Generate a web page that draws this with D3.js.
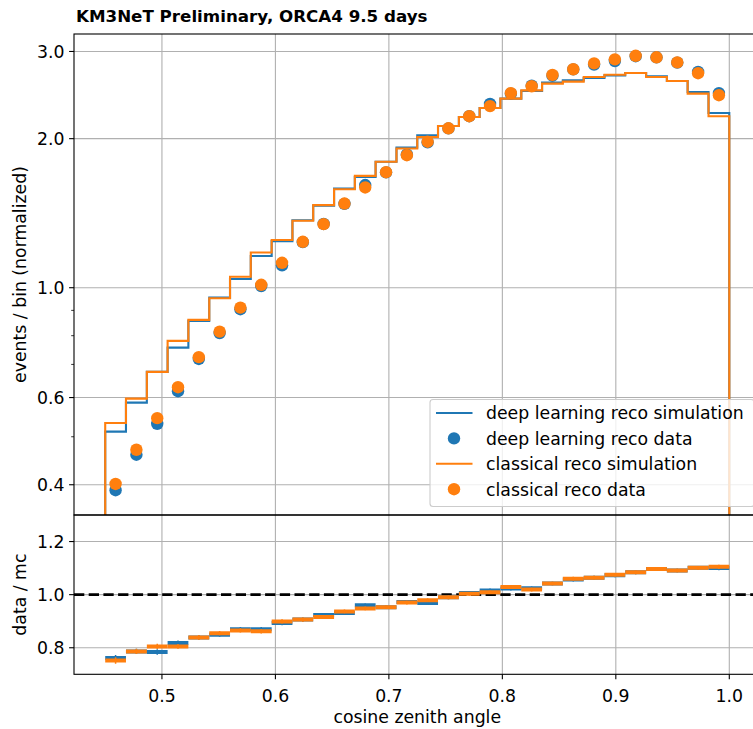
<!DOCTYPE html>
<html>
<head>
<meta charset="utf-8">
<script src="https://cdnjs.cloudflare.com/ajax/libs/d3/7.8.5/d3.min.js"></script>
<style>
  html, body { margin: 0; padding: 0; background: #fff; }
  svg { display: block; font-family: 'DejaVu Sans', sans-serif; }
</style>
</head>
<body>
<div class="graph"></div>
<script>
// cos(zenith) bin edges, 30 bins
var binEdges = [0.4500, 0.4683, 0.4867, 0.5050, 0.5233, 0.5417, 0.5600, 0.5783, 0.5967, 0.6150,
                0.6333, 0.6517, 0.6700, 0.6883, 0.7067, 0.7250, 0.7433, 0.7617, 0.7800, 0.7983,
                0.8167, 0.8350, 0.8533, 0.8717, 0.8900, 0.9083, 0.9267, 0.9450, 0.9633, 0.9817, 1.0000];

// events / bin (normalized)
var dlSim = [0.512, 0.586, 0.676, 0.757, 0.857, 0.955, 1.041, 1.159, 1.242, 1.369,
             1.465, 1.585, 1.674, 1.796, 1.919, 2.032, 2.122, 2.212, 2.307, 2.409,
             2.498, 2.595, 2.623, 2.651, 2.685, 2.714, 2.673, 2.615, 2.484, 2.254];
var dlData = [0.390, 0.460, 0.531, 0.618, 0.718, 0.810, 0.905, 1.008, 1.110, 1.236,
              1.345, 1.477, 1.612, 1.710, 1.858, 1.966, 2.098, 2.220, 2.350, 2.465,
              2.558, 2.680, 2.760, 2.823, 2.870, 2.935, 2.920, 2.848, 2.727, 2.472];
var classicSim = [0.533, 0.597, 0.676, 0.781, 0.861, 0.952, 1.052, 1.178, 1.248, 1.365,
                  1.468, 1.581, 1.682, 1.796, 1.910, 2.016, 2.122, 2.212, 2.307, 2.409,
                  2.504, 2.583, 2.607, 2.664, 2.693, 2.714, 2.664, 2.615, 2.466, 2.219];
var classicData = [0.4015, 0.4707, 0.5452, 0.6296, 0.724, 0.8152, 0.9115, 1.0136, 1.123, 1.238,
                   1.344, 1.479, 1.594, 1.711, 1.852, 1.972, 2.099, 2.220, 2.327, 2.472,
                   2.552, 2.690, 2.762, 2.838, 2.892, 2.940, 2.920, 2.852, 2.712, 2.448];

// data / mc
var dlRatio = [0.761, 0.786, 0.784, 0.818, 0.839, 0.849, 0.870, 0.870, 0.893, 0.906,
               0.923, 0.931, 0.960, 0.953, 0.972, 0.969, 0.990, 1.006, 1.016, 1.023,
               1.024, 1.042, 1.057, 1.064, 1.073, 1.084, 1.097, 1.091, 1.101, 1.100];
var classicRatio = [0.752, 0.786, 0.805, 0.805, 0.839, 0.855, 0.865, 0.862, 0.899, 0.906,
                    0.916, 0.937, 0.948, 0.953, 0.970, 0.979, 0.990, 1.003, 1.009, 1.029,
                    1.019, 1.042, 1.060, 1.064, 1.075, 1.084, 1.097, 1.091, 1.101, 1.105];
var ratioErr = [0.012, 0.010, 0.010, 0.009, 0.009, 0.008, 0.008, 0.008, 0.008, 0.008,
                0.007, 0.007, 0.007, 0.007, 0.007, 0.007, 0.007, 0.007, 0.007, 0.007,
                0.007, 0.007, 0.007, 0.007, 0.007, 0.007, 0.007, 0.007, 0.007, 0.008];

var xTicks = [0.5, 0.6, 0.7, 0.8, 0.9, 1.0];
var yTicksMain = [0.4, 0.6, 1.0, 2.0, 3.0];
var yMinorMain = [0.5, 0.7, 0.8, 0.9];
var yTicksRatio = [0.8, 1.0, 1.2];
var legendLabels = ['deep learning reco simulation', 'deep learning reco data',
                    'classical reco simulation', 'classical reco data'];

var config = {
  width: 753,
  height: 729,
  left: 74,
  right: 760.5,
  mainTop: 34,
  mainBottom: 515,
  ratioBottom: 674.3,
  font: 17.3,
  titleFont: 16.7,
  blue: '#1f77b4',
  orange: '#ff7f0e',
  grid: '#b0b0b0'
};

var svg = d3.select('.graph')
  .append('svg')
  .attr('width', config.width)
  .attr('height', config.height);

// Scales
var x = d3.scaleLinear().domain([0.4225, 1.0275]).range([config.left, config.right]);
var yMain = d3.scaleLog().domain([0.3475, 3.254]).range([config.mainBottom, config.mainTop]);
var yRatio = d3.scaleLinear().domain([0.7, 1.3]).range([config.ratioBottom, config.mainBottom]);

var defs = svg.append('defs');
defs.append('clipPath').attr('id', 'clip-main')
  .append('rect')
  .attr('x', config.left).attr('y', config.mainTop)
  .attr('width', config.right - config.left)
  .attr('height', config.mainBottom - config.mainTop);
defs.append('clipPath').attr('id', 'clip-ratio')
  .append('rect')
  .attr('x', config.left).attr('y', config.mainBottom)
  .attr('width', config.right - config.left)
  .attr('height', config.ratioBottom - config.mainBottom);

// ============== Grid ==============
function xGrid(y0, y1){
  svg.append('g').selectAll('line')
    .data(xTicks)
    .enter()
    .append('line')
    .attr('x1', (d) =>{return x(d)})
    .attr('x2', (d) =>{return x(d)})
    .attr('y1', y0)
    .attr('y2', y1)
    .attr('stroke', config.grid)
    .attr('stroke-width', 1.1);
}
xGrid(config.mainTop, config.mainBottom);
xGrid(config.mainBottom, config.ratioBottom);

svg.append('g').selectAll('line')
  .data(yTicksMain)
  .enter()
  .append('line')
  .attr('x1', config.left)
  .attr('x2', config.right)
  .attr('y1', (d) =>{return yMain(d)})
  .attr('y2', (d) =>{return yMain(d)})
  .attr('stroke', config.grid)
  .attr('stroke-width', 1.1);

svg.append('g').selectAll('line')
  .data(yTicksRatio)
  .enter()
  .append('line')
  .attr('x1', config.left)
  .attr('x2', config.right)
  .attr('y1', (d) =>{return yRatio(d)})
  .attr('y2', (d) =>{return yRatio(d)})
  .attr('stroke', config.grid)
  .attr('stroke-width', 1.1);

// ============== Main panel ==============
var main = svg.append('g').attr('clip-path', 'url(#clip-main)');

function stepPath(values){
  var pts = [[x(binEdges[0]), config.mainBottom + 10]];
  values.forEach((v, i) =>{
    pts.push([x(binEdges[i]), yMain(v)]);
    pts.push([x(binEdges[i + 1]), yMain(v)]);
  });
  pts.push([x(binEdges[binEdges.length - 1]), config.mainBottom + 10]);
  return d3.line()(pts);
}

var binCenters = binEdges.slice(0, -1).map((e, i) =>{return (e + binEdges[i + 1]) / 2});

function drawSeries(sim, data, color){
  main.append('path')
    .attr('d', stepPath(sim))
    .attr('fill', 'none')
    .attr('stroke', color)
    .attr('stroke-width', 2.1)
    .attr('stroke-linejoin', 'miter');

  main.append('g').selectAll('circle')
    .data(data)
    .enter()
    .append('circle')
    .attr('cx', (d, i) =>{return x(binCenters[i])})
    .attr('cy', (d) =>{return yMain(d)})
    .attr('r', 6.2)
    .attr('fill', color);
}
drawSeries(dlSim, dlData, config.blue);
drawSeries(classicSim, classicData, config.orange);

// ============== Ratio panel ==============
var ratio = svg.append('g').attr('clip-path', 'url(#clip-ratio)');

ratio.append('line')
  .attr('x1', config.left)
  .attr('x2', config.right)
  .attr('y1', yRatio(1.0))
  .attr('y2', yRatio(1.0))
  .attr('stroke', '#000')
  .attr('stroke-width', 2.8)
  .attr('stroke-dasharray', '10.3,4.4');

function drawRatio(values, color){
  var g = ratio.append('g');
  g.selectAll('.bar')
    .data(values)
    .enter()
    .append('line')
    .attr('class', 'bar')
    .attr('x1', (d, i) =>{return x(binEdges[i])})
    .attr('x2', (d, i) =>{return x(binEdges[i + 1])})
    .attr('y1', (d) =>{return yRatio(d)})
    .attr('y2', (d) =>{return yRatio(d)})
    .attr('stroke', color)
    .attr('stroke-width', 4);
  g.selectAll('.err')
    .data(values)
    .enter()
    .append('line')
    .attr('class', 'err')
    .attr('x1', (d, i) =>{return x(binCenters[i])})
    .attr('x2', (d, i) =>{return x(binCenters[i])})
    .attr('y1', (d, i) =>{return yRatio(d - ratioErr[i])})
    .attr('y2', (d, i) =>{return yRatio(d + ratioErr[i])})
    .attr('stroke', color)
    .attr('stroke-width', 1.5);
}
drawRatio(dlRatio, config.blue);
drawRatio(classicRatio, config.orange);

// ============== Axes ==============
function frame(y0, y1){
  svg.append('rect')
    .attr('x', config.left)
    .attr('y', y0)
    .attr('width', config.right - config.left)
    .attr('height', y1 - y0)
    .attr('fill', 'none')
    .attr('stroke', '#000')
    .attr('stroke-width', 1.1);
}
frame(config.mainTop, config.mainBottom);
frame(config.mainBottom, config.ratioBottom);

// y ticks main
svg.append('g').selectAll('line')
  .data(yTicksMain)
  .enter()
  .append('line')
  .attr('x1', config.left - 4.9)
  .attr('x2', config.left)
  .attr('y1', (d) =>{return yMain(d)})
  .attr('y2', (d) =>{return yMain(d)})
  .attr('stroke', '#000')
  .attr('stroke-width', 1.1);

svg.append('g').selectAll('line')
  .data(yMinorMain)
  .enter()
  .append('line')
  .attr('x1', config.left - 2.8)
  .attr('x2', config.left)
  .attr('y1', (d) =>{return yMain(d)})
  .attr('y2', (d) =>{return yMain(d)})
  .attr('stroke', '#000')
  .attr('stroke-width', 0.8);

svg.append('g').selectAll('text')
  .data(yTicksMain)
  .enter()
  .append('text')
  .attr('x', config.left - 9.5)
  .attr('y', (d) =>{return yMain(d) + 6.2})
  .attr('text-anchor', 'end')
  .style('font-size', config.font + 'px')
  .text((d) =>{return d3.format('.1f')(d)});

// y ticks ratio
svg.append('g').selectAll('line')
  .data(yTicksRatio)
  .enter()
  .append('line')
  .attr('x1', config.left - 4.9)
  .attr('x2', config.left)
  .attr('y1', (d) =>{return yRatio(d)})
  .attr('y2', (d) =>{return yRatio(d)})
  .attr('stroke', '#000')
  .attr('stroke-width', 1.1);

svg.append('g').selectAll('text')
  .data(yTicksRatio)
  .enter()
  .append('text')
  .attr('x', config.left - 9.5)
  .attr('y', (d) =>{return yRatio(d) + 6.2})
  .attr('text-anchor', 'end')
  .style('font-size', config.font + 'px')
  .text((d) =>{return d3.format('.1f')(d)});

// x ticks
svg.append('g').selectAll('line')
  .data(xTicks)
  .enter()
  .append('line')
  .attr('x1', (d) =>{return x(d)})
  .attr('x2', (d) =>{return x(d)})
  .attr('y1', config.ratioBottom)
  .attr('y2', config.ratioBottom + 4.9)
  .attr('stroke', '#000')
  .attr('stroke-width', 1.1);

svg.append('g').selectAll('text')
  .data(xTicks)
  .enter()
  .append('text')
  .attr('x', (d) =>{return x(d)})
  .attr('y', 701.5)
  .attr('text-anchor', 'middle')
  .style('font-size', config.font + 'px')
  .text((d) =>{return d3.format('.1f')(d)});

// Labels
svg.append('text')
  .attr('x', (config.left + config.right) / 2)
  .attr('y', 722.5)
  .attr('text-anchor', 'middle')
  .style('font-size', config.font + 'px')
  .text('cosine zenith angle');

svg.append('text')
  .attr('transform', 'translate(26,' + ((config.mainTop + config.mainBottom) / 2) + ') rotate(-90)')
  .attr('text-anchor', 'middle')
  .style('font-size', config.font + 'px')
  .text('events / bin (normalized)');

svg.append('text')
  .attr('transform', 'translate(26,' + ((config.mainBottom + config.ratioBottom) / 2) + ') rotate(-90)')
  .attr('text-anchor', 'middle')
  .style('font-size', config.font + 'px')
  .text('data / mc');

svg.append('text')
  .attr('x', 76)
  .attr('y', 22)
  .style('font-size', config.titleFont + 'px')
  .style('font-weight', 'bold')
  .text('KM3NeT Preliminary, ORCA4 9.5 days');

// ============== Legend ==============
var legend = svg.append('g');
legend.append('rect')
  .attr('x', 430)
  .attr('y', 399.5)
  .attr('width', 324)
  .attr('height', 107)
  .attr('rx', 3)
  .attr('fill', '#fff')
  .attr('fill-opacity', 0.8)
  .attr('stroke', '#cccccc')
  .attr('stroke-width', 1.1);

var legendColors = [config.blue, config.blue, config.orange, config.orange];
var legendRows = legend.selectAll('.legend-row')
  .data(legendLabels)
  .enter()
  .append('g')
  .attr('class', 'legend-row')
  .attr('transform', (d, i) =>{return 'translate(0,' + (413 + i * 25.4) + ')'});

legendRows.each(function(d, i){
  var row = d3.select(this);
  if(i % 2 === 0){
    row.append('line')
      .attr('x1', 436).attr('x2', 472.5)
      .attr('y1', 0).attr('y2', 0)
      .attr('stroke', legendColors[i])
      .attr('stroke-width', 2.1);
  } else {
    row.append('circle')
      .attr('cx', 454).attr('cy', 0)
      .attr('r', 6.2)
      .attr('fill', legendColors[i]);
  }
  row.append('text')
    .attr('x', 486)
    .attr('y', 6.3)
    .style('font-size', config.font + 'px')
    .text(d);
});
</script>
</body>
</html>
